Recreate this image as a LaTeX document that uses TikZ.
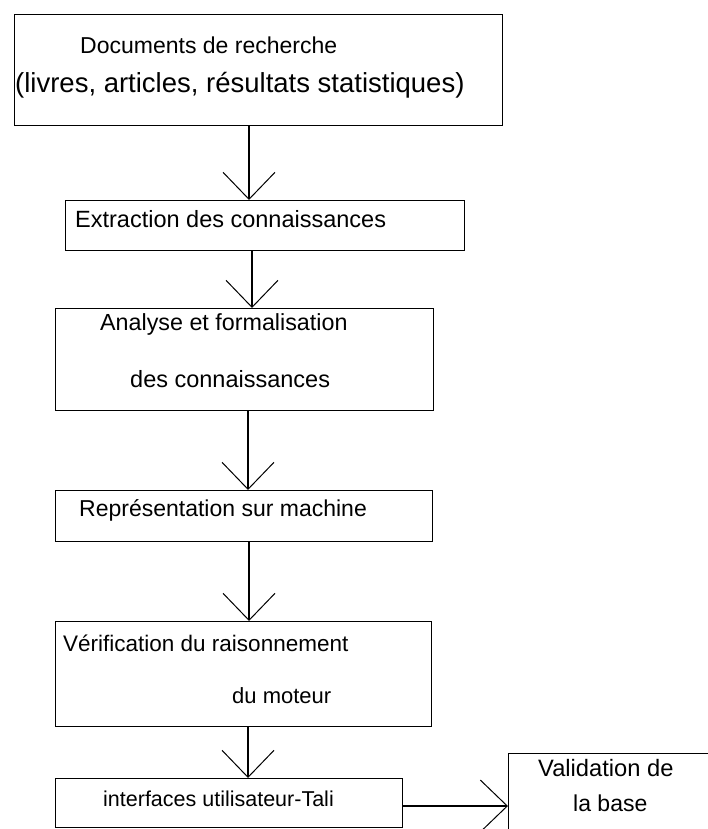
\documentclass[tikz,border=0pt]{standalone}
\usepackage{fontspec}
\setmainfont{Liberation Sans}
\usetikzlibrary{arrows.meta}
\begin{document}
\begin{tikzpicture}[x=1pt,y=-1pt,
  stagebox/.style={draw, line width=1.2pt, rectangle, inner sep=0pt, anchor=north west},
  label/.style={anchor=west, inner sep=0pt, text height=0.72em, text depth=0pt},
  fs/.style={font=\fontsize{#1}{#1}\selectfont},
  flow/.style={line width=1.2pt, -{Straight Barb[length=27pt,width=52pt,line width=1pt]}}]
\useasboundingbox (0,0) rectangle (708,829);

% stage boxes
\node[stagebox, minimum width=488pt, minimum height=111pt] (b1) at (14,14) {};
\node[stagebox, minimum width=399pt, minimum height=50pt]  (b2) at (65,200) {};
\node[stagebox, minimum width=378pt, minimum height=102pt] (b3) at (55,308) {};
\node[stagebox, minimum width=377pt, minimum height=51pt]  (b4) at (55,490) {};
\node[stagebox, minimum width=376pt, minimum height=105pt] (b5) at (55,621) {};
\node[stagebox, minimum width=347pt, minimum height=49pt]  (b6) at (55,778) {};
\node[stagebox, minimum width=230pt, minimum height=120pt] (b7) at (508,753) {};

% texts
\node[label, fs=23]   (t1a) at (80,50)   {Documents de recherche};
\node[label, fs=27.5] (t1b) at (15,89)   {(livres, articles, résultats statistiques)};
\node[label, fs=23.5] (t2)  at (75,224)  {Extraction des connaissances};
\node[label, fs=23.3] (t3a) at (100,327) {Analyse et formalisation};
\node[label, fs=23.5] (t3b) at (130,384) {des connaissances};
\node[label, fs=23]   (t4)  at (79,513)  {Représentation sur machine};
\node[label, fs=22.5] (t5a) at (63,648)  {Vérification du raisonnement};
\node[label, fs=22]   (t5b) at (232,700) {du moteur};
\node[label, fs=21.5] (t6)  at (103,803) {interfaces utilisateur-Tali};
\node[label, fs=23.7] (t7a) at (538,773) {Validation de};
\node[label, fs=23]   (t7b) at (573,808) {la base};

% connector columns and the level of the side link
\coordinate (c1) at (249,0);
\coordinate (c2) at (252,0);
\coordinate (c3) at (248,0);
\coordinate (c4) at (249,0);
\coordinate (c5) at (248,0);
\coordinate (h)  at (0,806);

% connectors
\draw[flow] (b1.south -| c1) -- (b2.north -| c1);
\draw[flow] (b2.south -| c2) -- (b3.north -| c2);
\draw[flow] (b3.south -| c3) -- (b4.north -| c3);
\draw[flow] (b4.south -| c4) -- (b5.north -| c4);
\draw[flow] (b5.south -| c5) -- (b6.north -| c5);
\draw[flow] (b6.east |- h) -- (b7.west |- h);
\end{tikzpicture}
\end{document}
